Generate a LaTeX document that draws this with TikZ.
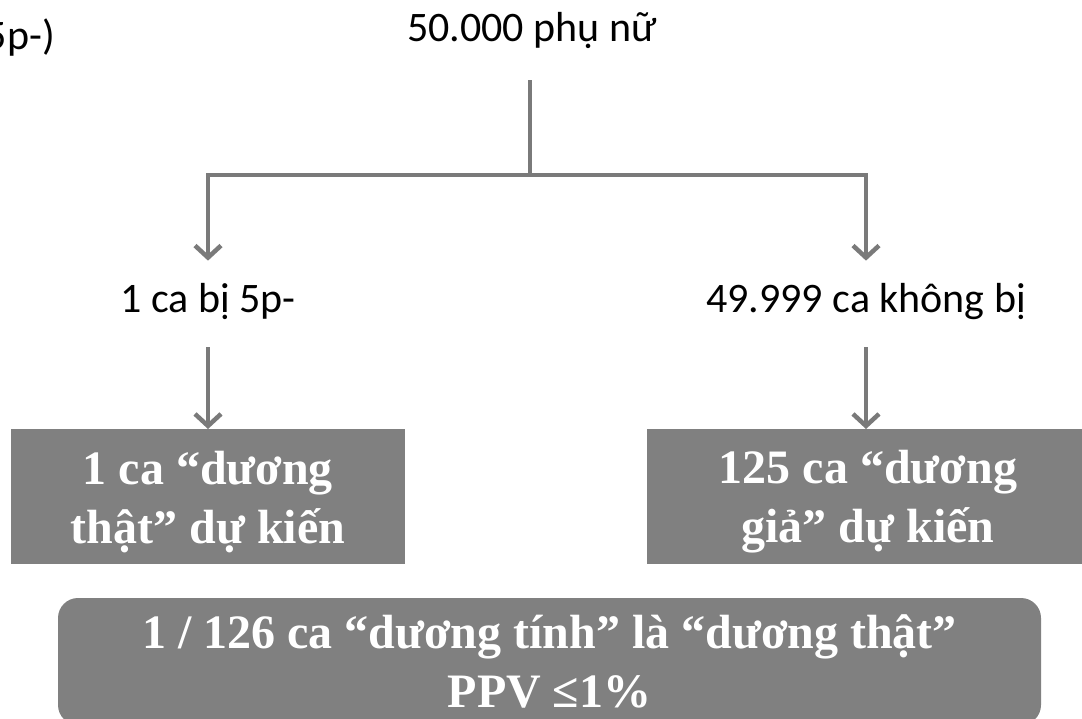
\documentclass[tikz,border=0pt]{standalone}
\usepackage{fontspec}
\setmainfont{Liberation Serif}
\newfontfamily\countfont{Carlito}
\usepackage{tikz}
\usetikzlibrary{arrows.meta}
\definecolor{boxgray}{RGB}{128,128,128}
\definecolor{linegray}{RGB}{122,122,122}
\newcommand{\boxstrut}{\rule{0pt}{44pt}}
\tikzstyle{countlabel}=[font=\countfont\fontsize{42}{50}\selectfont,inner sep=3pt]
\tikzstyle{resultbox}=[fill=boxgray,text=white,font=\bfseries\fontsize{48}{59}\selectfont,align=center,minimum height=135pt,inner sep=0pt,outer sep=0pt]
\tikzstyle{summarybox}=[resultbox,rounded corners=20pt,minimum width=983pt,minimum height=127pt]
\tikzstyle{branch}=[draw=linegray,line width=4.5pt]
\tikzstyle{branchedge}=[branch,-{Straight Barb[length=12pt,width=26pt]}]
\begin{document}
\begin{tikzpicture}[x=1pt,y=-1pt]
    \useasboundingbox (0,0) rectangle (1082,719);
    % First the counts
    \node[countlabel,anchor=base] (total) at (532,42) {50.000 phụ nữ};
    \node[countlabel,anchor=base east] (cut) at (58,50) {5p-)};
    \node[countlabel,anchor=base] (sick) at (208,313) {1 ca bị 5p-};
    \node[countlabel,anchor=base] (healthy) at (866,313) {49.999 ca không bị};

    % Then the expected results
    \node[resultbox,minimum width=394pt] (truepos) at (208,496.5) {\boxstrut 1 ca “dương\\thật” dự kiến};
    \node[resultbox,minimum width=442pt] (falsepos) at (868,496.5) {\boxstrut 125 ca “dương\\giả” dự kiến};
    \node[summarybox] (ppv) at (549.5,661.5) {1 / 126 ca “dương tính” là “dương thật”\\PPV ≤1\%};

    % Connect the counts with the tree
    \coordinate (split) at (530,175);
    \draw[branch,shorten <=28pt] (total.south -| split) -- (split);
    \draw[branchedge,shorten >=20pt] (split) -| (sick.north);
    \draw[branchedge,shorten >=20pt] (split) -| (healthy.north);
    \draw[branchedge,shorten <=24pt] (sick.south) -- (truepos.north);
    \draw[branchedge,shorten <=24pt] (healthy.south) -- (healthy.south |- falsepos.north);
\end{tikzpicture}
\end{document}
